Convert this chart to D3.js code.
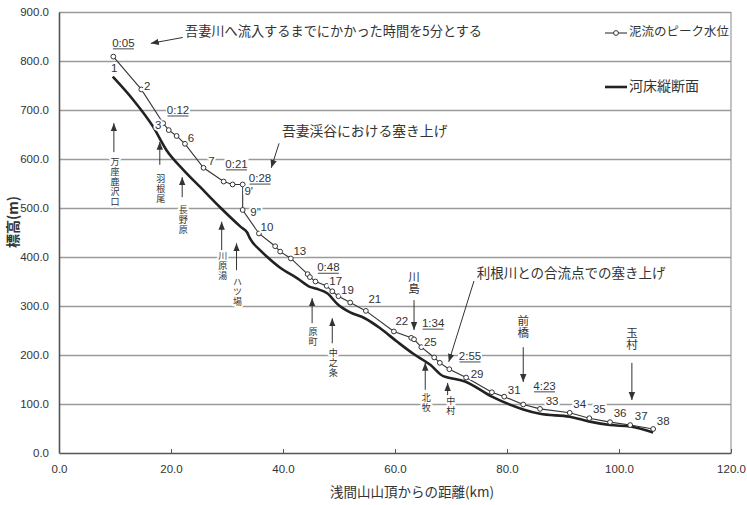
<!DOCTYPE html>
<html>
<head>
<meta charset="utf-8">
<script src="https://cdn.jsdelivr.net/npm/d3@7"></script>
<style>
  body { margin: 0; background: #fff; }
  svg { display: block; }
  .num { font-family: "Liberation Sans", Arial, sans-serif; fill: #333; }
  .jp { font-family: "Noto Sans CJK JP", sans-serif; fill: #333; }
  .halo { stroke: #fff; stroke-width: 4px; paint-order: stroke; stroke-linejoin: round; }
  .vert { writing-mode: vertical-rl; text-orientation: upright; }
</style>
</head>
<body>
<svg id="chart" width="747" height="505"></svg>
<script>
// 泥流のピーク水位 (km, m)
const peakKm = [9.7, 14.7, 18.6, 19.6, 21.0, 22.5, 25.8, 29.4, 31.0, 32.8, 32.8,
  35.7, 38.6, 39.5, 41.4, 44.4, 44.8, 45.8, 47.8, 48.8, 49.9, 52.0, 54.8, 59.8,
  62.9, 63.4, 64.7, 67.0, 68.0, 69.7, 72.7, 77.3, 79.5, 82.9, 85.9, 91.2, 94.7,
  98.4, 102.0, 106.1];
const peakM = [809, 742, 673, 659, 647, 631, 582, 554, 548, 548, 496,
  448, 422, 411, 397, 365, 359, 350, 341, 330, 320, 307, 290, 248,
  235, 232, 216, 195, 184, 171, 154, 124, 115, 99, 90, 82, 71,
  63, 57, 49];
const peakNames = ["1", "2", "3", "4", "5", "6", "7", "8", "9", "9'", "9''",
  "10", "11", "12", "13", "14", "15", "16", "17", "18", "19", "20", "21", "22",
  "23", "24", "25", "26", "27", "28", "29", "30", "31", "32", "33", "34", "35",
  "36", "37", "38"];

// 河床縦断面 (km, m)
const bedKm = [9.6, 13.3, 16.8, 19.2, 22.2, 25.2, 28.8, 32.5, 33.6, 34.1, 35.9,
  37.1, 39.5, 42.5, 44.8, 46.0, 47.9, 49.8, 52.0, 54.6, 57.3, 60.4, 63.2, 66.3,
  68.6, 69.1, 72.5, 77.3, 82.9, 85.9, 91.2, 94.8, 98.4, 102.0, 106.1];
const bedM = [768, 720, 666, 618, 578, 543, 501, 461, 450, 438, 414,
  401, 378, 357, 339, 335, 326, 303, 287, 275, 255, 227, 203, 180,
  157, 155, 146, 115, 89, 80, 74, 64, 57, 54, 42];

// 到達時間 (label, km, m)
const timeLabels = ["0:05", "0:12", "0:21", "0:28", "0:48", "1:34", "2:55", "4:23"];
const timeKm = [11.5, 21.25, 31.7, 35.9, 48.1, 66.8, 73.4, 86.7];
const timeM = [835, 698, 588, 559, 377, 263, 196, 135];

// 地名 (upward arrows from below)
const placeUp = ["万座鹿沢口", "羽根尾", "長野原", "川原湯", "ハツ場", "原町", "中之条", "北牧", "中村"];
const placeUpKm = [9.8, 18.0, 22.0, 29.05, 31.7, 45.2, 48.8, 65.4, 69.4];
const placeUpHead = [673, 635, 563, 472, 428, 316, 275, 184, 143];
const placeUpTail = [614, 588, 522, 414, 373, 265, 224, 129, 118];
const placeUpText = [594, 561, 496, 402, 350, 247, 204, 114, 106];
// 地名 (downward arrows from above)
const placeDown = ["川島", "前橋", "玉村"];
const placeDownKm = [63.4, 82.9, 102.3];
const placeDownText = [359, 271, 245];
const placeDownTail = [312, 216, 184];
const placeDownHead = [251, 145, 108];

const xTicks = [0, 20, 40, 60, 80, 100, 120];
const yTicks = [0, 100, 200, 300, 400, 500, 600, 700, 800, 900];

const svg = d3.select("#chart");
const x = d3.scaleLinear().domain([0, 120]).range([59, 731]);
const y = d3.scaleLinear().domain([0, 900]).range([453, 12]);

// arrowhead marker
svg.append("defs").append("marker").attr("id", "ah").attr("viewBox", "0 0 10 10")
  .attr("refX", 10).attr("refY", 5).attr("markerWidth", 8).attr("markerHeight", 8)
  .attr("markerUnits", "userSpaceOnUse").attr("orient", "auto")
  .append("path").attr("d", "M0,1 L10,5 L0,9 Z").attr("fill", "#333");

// gridlines
svg.append("g")
  .attr("transform", "translate(59,0)")
  .call(d3.axisLeft(y).tickValues(yTicks.slice(1)).tickSize(-(731 - 59)).tickFormat(""))
  .call(g => g.select(".domain").remove())
  .call(g => g.selectAll("line").attr("stroke", "#9a9a9a").attr("stroke-width", 1.4));

// right border
svg.append("line").attr("x1", x(120)).attr("x2", x(120)).attr("y1", y(900)).attr("y2", y(0))
  .attr("stroke", "#9a9a9a").attr("stroke-width", 1.2);

// y axis
svg.append("g")
  .attr("transform", "translate(59,0)")
  .call(d3.axisLeft(y).tickValues(yTicks).tickSize(0).tickPadding(10).tickFormat(d => d.toFixed(1)))
  .call(g => g.select(".domain").attr("stroke", "#555").attr("stroke-width", 1.6))
  .call(g => g.selectAll("text").attr("class", "num").attr("font-size", 11.5));

// x axis
svg.append("g")
  .attr("transform", "translate(0,453)")
  .call(d3.axisBottom(x).tickValues(xTicks).tickSizeInner(-4).tickSizeOuter(0).tickPadding(12).tickFormat(d => d.toFixed(1)))
  .call(g => g.select(".domain").attr("stroke", "#555").attr("stroke-width", 1.6))
  .call(g => g.selectAll("line").attr("stroke", "#555"))
  .call(g => g.selectAll("text").attr("class", "num").attr("font-size", 11.5));

// axis titles
svg.append("text").attr("class", "jp")
  .attr("x", 412).attr("y", 493).attr("text-anchor", "middle").attr("dominant-baseline", "middle")
  .attr("font-size", 13.5).text("浅間山山頂からの距離(km)");
svg.append("text").attr("class", "jp")
  .attr("transform", "translate(14,222) rotate(-90)")
  .attr("text-anchor", "middle").attr("dominant-baseline", "middle")
  .attr("font-size", 14).attr("font-weight", "bold").text("標高(m)");

// bed line
const bed = bedKm.map((k, i) => ({ km: k, m: bedM[i] }));
svg.append("path").datum(bed)
  .attr("fill", "none").attr("stroke", "#222").attr("stroke-width", 2.6)
  .attr("d", d3.line().x(d => x(d.km)).y(d => y(d.m)).curve(d3.curveMonotoneX));

// peak line
const peak = peakKm.map((k, i) => ({ km: k, m: peakM[i], name: peakNames[i] }));
svg.append("path").datum(peak)
  .attr("fill", "none").attr("stroke", "#333").attr("stroke-width", 1.1)
  .attr("d", d3.line().x(d => x(d.km)).y(d => y(d.m)));
svg.append("g").selectAll("circle").data(peak).join("circle")
  .attr("cx", d => x(d.km)).attr("cy", d => y(d.m)).attr("r", 2.4)
  .attr("fill", "#fff").attr("stroke", "#333").attr("stroke-width", 1);

// point number labels (offsets in px)
const labelOffset = {
  "1": [1, 12], "2": [6, -2], "3": [-5, 3], "6": [6, -5], "7": [8, -6],
  "9'": [6, 7], "9''": [13, 3], "10": [8, -6], "13": [9, -7], "17": [9, -4],
  "19": [9, -5], "21": [9, -11], "22": [8, -10], "25": [9, -4], "29": [11, -3],
  "31": [10, -6], "33": [12, -7], "34": [10, -8], "35": [10, -8], "36": [10, -8],
  "37": [11, -8], "38": [10, -7]
};
svg.append("g").selectAll("text").data(peak.filter(d => labelOffset[d.name])).join("text")
  .attr("class", "num halo").attr("font-size", 11.5)
  .attr("text-anchor", "middle").attr("dominant-baseline", "middle")
  .attr("x", d => x(d.km) + labelOffset[d.name][0])
  .attr("y", d => y(d.m) + labelOffset[d.name][1])
  .text(d => d.name);

// time labels, underlined
const tl = svg.append("g").selectAll("g").data(timeLabels).join("g")
  .attr("transform", (d, i) => `translate(${x(timeKm[i])},${y(timeM[i])})`);
tl.append("rect").attr("x", -12).attr("y", -7).attr("width", 24).attr("height", 14).attr("fill", "#fff");
tl.append("text").attr("class", "num").attr("font-size", 11.5)
  .attr("text-anchor", "middle").attr("dominant-baseline", "middle").text(d => d);
tl.append("line").attr("x1", -10.5).attr("x2", 10.5).attr("y1", 5).attr("y2", 5)
  .attr("stroke", "#333").attr("stroke-width", 0.9);

// place names with upward arrows (vertical text)
placeUp.forEach((name, i) => {
  const px = x(placeUpKm[i]);
  svg.append("line").attr("x1", px).attr("x2", px)
    .attr("y1", y(placeUpTail[i])).attr("y2", y(placeUpHead[i]))
    .attr("stroke", "#333").attr("stroke-width", 1).attr("marker-end", "url(#ah)");
  svg.append("text").attr("class", "jp halo vert").attr("font-size", 9)
    .style("letter-spacing", "1px")
    .attr("x", px + (name === "中村" ? 3 : 1)).attr("y", y(placeUpText[i]) - 4.5)
    .text(name);
});

// place names with downward arrows
placeDown.forEach((name, i) => {
  const px = x(placeDownKm[i]);
  svg.append("text").attr("class", "jp halo vert").attr("font-size", 11.5)
    .style("letter-spacing", "0.5px")
    .attr("x", px).attr("y", y(placeDownText[i]) - 5.75)
    .text(name);
  svg.append("line").attr("x1", px).attr("x2", px)
    .attr("y1", y(placeDownTail[i])).attr("y2", y(placeDownHead[i]))
    .attr("stroke", "#333").attr("stroke-width", 1).attr("marker-end", "url(#ah)");
});

// callouts
const callouts = [
  { text: "吾妻川へ流入するまでにかかった時間を5分とする", km: 22.5, m: 858, fs: 13.2, a: [22.1, 848, 16.4, 836] },
  { text: "吾妻渓谷における塞き上げ", km: 39.8, m: 655, fs: 13.8, a: [39.3, 632, 37.9, 582] },
  { text: "利根川との合流点での塞き上げ", km: 74.6, m: 365, fs: 13.5, a: [74.1, 351, 69.6, 186] }
];
callouts.forEach(c => {
  svg.append("text").attr("class", "jp halo").attr("font-size", c.fs)
    .attr("x", x(c.km)).attr("y", y(c.m)).attr("dominant-baseline", "middle").text(c.text);
  svg.append("line").attr("x1", x(c.a[0])).attr("y1", y(c.a[1])).attr("x2", x(c.a[2])).attr("y2", y(c.a[3]))
    .attr("stroke", "#333").attr("stroke-width", 1).attr("marker-end", "url(#ah)");
});

// legend
const lg = svg.append("g");
lg.append("line").attr("x1", 605).attr("x2", 627).attr("y1", 33).attr("y2", 33)
  .attr("stroke", "#333").attr("stroke-width", 1.1);
lg.append("circle").attr("cx", 616).attr("cy", 33).attr("r", 2.4)
  .attr("fill", "#fff").attr("stroke", "#333");
lg.append("text").attr("class", "jp").attr("font-size", 12.5).attr("x", 629).attr("y", 33)
  .attr("dominant-baseline", "middle").text("泥流のピーク水位");
lg.append("line").attr("x1", 605).attr("x2", 627).attr("y1", 87).attr("y2", 87)
  .attr("stroke", "#222").attr("stroke-width", 2.6);
lg.append("text").attr("class", "jp").attr("font-size", 14).attr("x", 629).attr("y", 87)
  .attr("dominant-baseline", "middle").text("河床縦断面");
</script>
</body>
</html>
